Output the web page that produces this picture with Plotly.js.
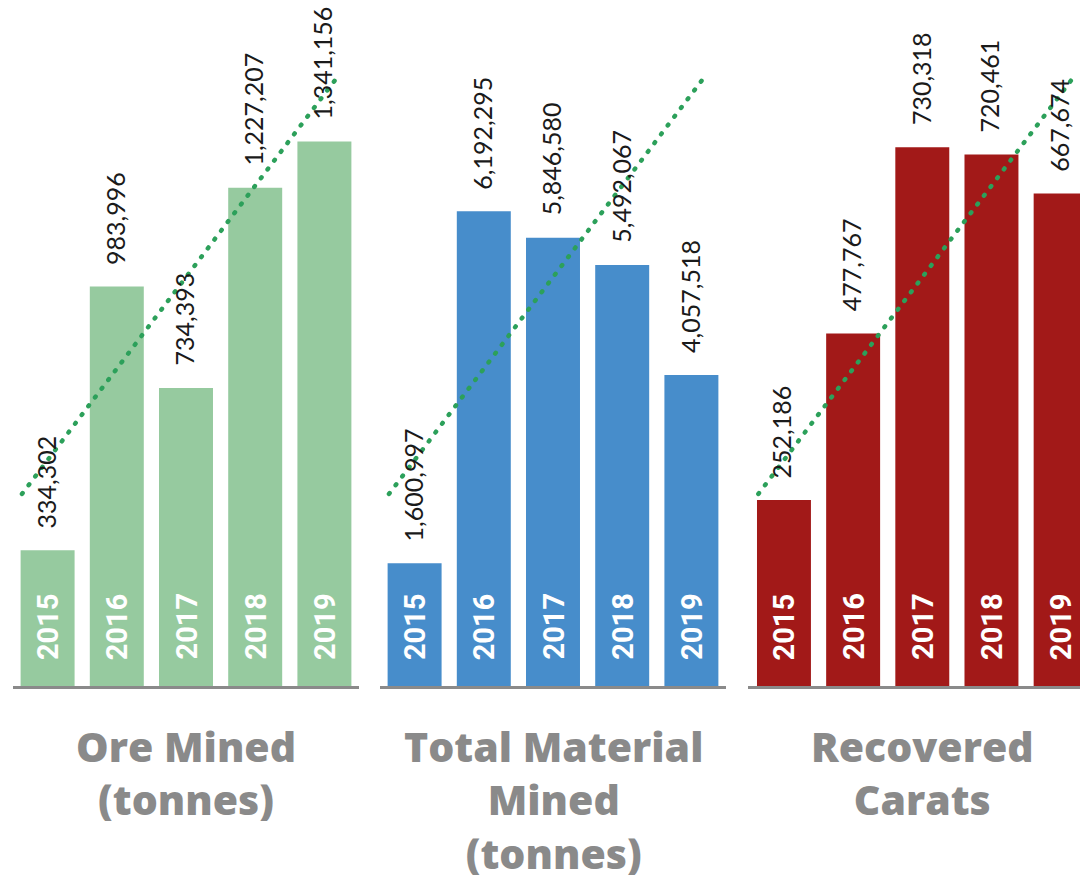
<!DOCTYPE html>
<html>
<head>
<meta charset="utf-8">
<script src="https://cdn.plot.ly/plotly-3.0.1.min.js"></script>
<style>html,body{margin:0;padding:0;background:#fff;}#chart{width:1080px;height:879px;}</style>
</head>
<body>
<div id="chart"></div>
<script>
// ---- data ----
const years = [2015, 2016, 2017, 2018, 2019];
const oreMined = [334302, 983996, 734393, 1227207, 1341156];
const totalMaterialMined = [1600997, 6192295, 5846580, 5492067, 4057518];
const recoveredCarats = [252186, 477767, 730318, 720461, 667674];
const panelTitles = [
  ["Ore Mined", "(tonnes)"],
  ["Total Material", "Mined", "(tonnes)"],
  ["Recovered", "Carats"]
];
// decorative dotted trend line (same in every panel), normalised height 0..1
const trendX = [2014.63, 2019.22];
const trendY = [0.28, 0.892];

// ---- styling ----
const series = [oreMined, totalMaterialMined, recoveredCarats];
const colors = ["#96CA9F", "#478DCB", "#A21918"];
const yMax = [1690000, 8950000, 930000];
const xDomains = [[13/1080, 359/1080], [380/1080, 726/1080], [748/1080, 1]];
const xRanges = [[2014.5, 2019.5], [2014.5, 2019.5], [2014.48, 2019.28]];
const yDomain = [(879 - 686) / 879, 1];
const titleTop = 716;

const traces = [];
const annotations = [];
const layout = {
  width: 1080, height: 879,
  margin: {l: 0, r: 0, t: 0, b: 0},
  paper_bgcolor: "#ffffff", plot_bgcolor: "rgba(0,0,0,0)",
  showlegend: false, bargap: 0.22,
  hovermode: false
};

series.forEach((vals, i) => {
  const n = i === 0 ? "" : String(i + 1);
  const ov = String(i + 4);
  const xa = "x" + n, ya = "y" + n;
  layout["xaxis" + n] = {
    domain: xDomains[i], range: xRanges[i], anchor: ya,
    showline: true, linecolor: "#8a8a8a", linewidth: 3,
    showticklabels: false, showgrid: false, zeroline: false, ticks: "", fixedrange: true
  };
  layout["yaxis" + n] = {
    domain: yDomain, range: [0, yMax[i]], anchor: xa,
    visible: false, showgrid: false, zeroline: false, fixedrange: true
  };
  layout["yaxis" + ov] = {
    overlaying: ya, range: [0, 1], anchor: xa,
    visible: false, showgrid: false, zeroline: false, fixedrange: true
  };
  traces.push({
    type: "bar", x: years, y: vals, xaxis: xa, yaxis: ya,
    marker: {color: colors[i], line: {width: 0}}, hoverinfo: "skip"
  });
  traces.push({
    type: "scatter", mode: "lines", x: trendX, y: trendY, xaxis: xa, yaxis: "y" + ov,
    line: {color: "#2CA05A", width: 4.5, dash: "1px,10px"}, hoverinfo: "skip", cliponaxis: false
  });
  years.forEach((yr, k) => {
    annotations.push({
      xref: xa, yref: ya, x: yr, y: vals[k], text: vals[k].toLocaleString("en-US"),
      showarrow: false, textangle: -90, xanchor: "center", yanchor: "bottom",
      yshift: 20, xshift: -2,
      font: {family: "Lato, sans-serif", size: 25, color: "#1a1a1a"}
    });
    annotations.push({
      xref: xa, yref: ya, x: yr, y: 0, text: String(yr),
      showarrow: false, textangle: -90, xanchor: "center", yanchor: "bottom",
      yshift: 24,
      font: {family: "Roboto, sans-serif", size: 29, color: "#ffffff", weight: 700}
    });
  });
  annotations.push({
    xref: xa, yref: "paper", x: 2017, y: 1 - titleTop / 879,
    text: panelTitles[i].join("<br>"),
    showarrow: false, xanchor: "center", yanchor: "top", align: "center",
    font: {family: "Open Sans, sans-serif", size: 41, color: "#8a8a8a", weight: 800}
  });
});
layout.annotations = annotations;

Plotly.newPlot("chart", traces, layout, {staticPlot: true, displayModeBar: false}).then(() => {
  document.querySelectorAll(".scatterlayer path.js-line").forEach(p => {
    p.style.strokeLinecap = "round";
  });
});
</script>
</body>
</html>
